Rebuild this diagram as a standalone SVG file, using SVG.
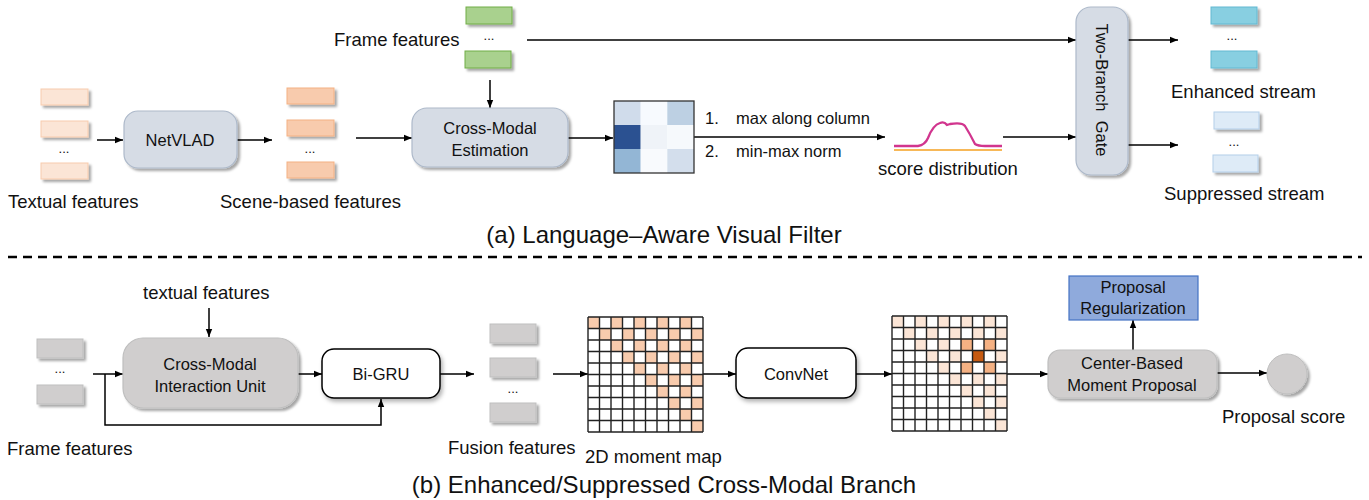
<svg xmlns="http://www.w3.org/2000/svg" width="1369" height="500" viewBox="0 0 1369 500">
<defs>
<style>
text{font-family:"Liberation Sans",Arial,sans-serif;fill:#111}
.lbl{font-size:18.5px}
.bx{font-size:16.5px;text-anchor:middle}
.cap{font-size:24px;text-anchor:middle}
.dots{font-size:13px;text-anchor:middle}
.c{stroke:#000;stroke-width:1.5;fill:none;marker-end:url(#ah)}
.cn{stroke:#000;stroke-width:1.5;fill:none}
.tf{fill:#FBE5D6;stroke:#F8CBAD;stroke-width:1}
.sf{fill:#F8CBAD;stroke:#F4B183;stroke-width:1}
.gf{fill:#A9D18E;stroke:#70AD47;stroke-width:1}
.ef{fill:#88CFE1;stroke:#62B9D2;stroke-width:1}
.uf{fill:#DEEBF7;stroke:#B4CFEA;stroke-width:1}
.yf{fill:#D0CECE;stroke:#BFBFBF;stroke-width:1}
.pb{fill:#D6DCE5;stroke:#ADB9CA;stroke-width:1.2}
.gb{fill:#D0CECE;stroke:#BFBFBF;stroke-width:1.2}
.wb{fill:#fff;stroke:#000;stroke-width:1.5}
.g1{fill:#F8CBAD}
.l2{fill:#FBE5D6}
.m2{fill:#F4B183}
.d2{fill:#C55A11}
.gl{stroke:#222;stroke-width:1.4;fill:none}
</style>
<marker id="ah" viewBox="0 0 10 10" refX="10" refY="5" markerWidth="8" markerHeight="8" markerUnits="userSpaceOnUse" orient="auto"><path d="M0,1 L10,5 L0,9 z" fill="#000"/></marker>
<filter id="sh" x="-20%" y="-30%" width="150%" height="180%"><feDropShadow dx="2.5" dy="2.5" stdDeviation="1.2" flood-color="#000" flood-opacity="0.35"/></filter>
<filter id="sw" x="-20%" y="-30%" width="150%" height="180%"><feDropShadow dx="2" dy="3" stdDeviation="2" flood-color="#000" flood-opacity="0.3"/></filter>
</defs>
<rect width="1369" height="500" fill="#fff"/>

<g id="connectors">
<path class="c" d="M97,140 H123"/>
<path class="c" d="M237,140 H272"/>
<path class="c" d="M356,138 H412"/>
<path class="c" d="M490,80 V108"/>
<path class="c" d="M568,138 H613"/>
<path class="c" d="M694,137 H885"/>
<path class="c" d="M527,40 H1076"/>
<path class="c" d="M1003,137 H1076"/>
<path class="c" d="M1128,40 H1178"/>
<path class="c" d="M1128,145 H1178"/>
<path class="c" d="M209,308 V337"/>
<path class="c" d="M93,374 H123"/>
<path class="c" d="M105,374 V425 H381 V399"/>
<path class="c" d="M298,374 H322"/>
<path class="c" d="M440,374 H474"/>
<path class="c" d="M553,374 H588"/>
<path class="c" d="M703,374 H736"/>
<path class="c" d="M856,374 H892"/>
<path class="c" d="M1007,374 H1048"/>
<path class="c" d="M1133,350 V320"/>
<path class="c" d="M1217,373 H1267"/>
</g>

<g id="textual-features">
<rect class="tf" x="41" y="89" width="47" height="16" filter="url(#sh)"/>
<rect class="tf" x="41" y="121" width="47" height="16" filter="url(#sh)"/>
<text class="dots" x="64" y="153">...</text>
<rect class="tf" x="41" y="163" width="47" height="16" filter="url(#sh)"/>
<text class="lbl" x="8" y="208">Textual features</text>
</g>

<g id="netvlad">
<rect class="pb" x="124" y="111" width="113" height="57" rx="14" filter="url(#sh)"/>
<text class="bx" x="180" y="146">NetVLAD</text>
</g>

<g id="scene-features">
<rect class="sf" x="287" y="88" width="47" height="16" filter="url(#sh)"/>
<rect class="sf" x="287" y="120" width="47" height="16" filter="url(#sh)"/>
<text class="dots" x="310" y="153">...</text>
<rect class="sf" x="287" y="162" width="47" height="16" filter="url(#sh)"/>
<text class="lbl" x="220" y="208">Scene-based features</text>
</g>

<g id="frame-features-top">
<text class="lbl" x="334" y="46">Frame features</text>
<rect class="gf" x="466" y="7" width="46" height="17" filter="url(#sh)"/>
<text class="dots" x="489" y="40">...</text>
<rect class="gf" x="465" y="51" width="46" height="17" filter="url(#sh)"/>
</g>

<g id="cross-modal-estimation">
<rect class="pb" x="412" y="108" width="156" height="59" rx="15" filter="url(#sh)"/>
<text class="bx" x="490" y="134">Cross-Modal</text>
<text class="bx" x="490" y="156">Estimation</text>
</g>

<g id="heatmap">
<rect x="614" y="101" width="26.7" height="24" fill="#D0DCEB"/>
<rect x="640.7" y="101" width="26.7" height="24" fill="#F7FAFE"/>
<rect x="667.3" y="101" width="26.7" height="24" fill="#BDD0E3"/>
<rect x="614" y="125" width="26.7" height="24" fill="#2B5191"/>
<rect x="640.7" y="125" width="26.7" height="24" fill="#EFF3F8"/>
<rect x="667.3" y="125" width="26.7" height="24" fill="#F6F9FC"/>
<rect x="614" y="149" width="26.7" height="24" fill="#93B6D5"/>
<rect x="640.7" y="149" width="26.7" height="24" fill="#F8FAFD"/>
<rect x="667.3" y="149" width="26.7" height="24" fill="#D3DEEC"/>
<rect x="614" y="101" width="80" height="72" fill="none" stroke="#333" stroke-width="1.3"/>
</g>

<g id="ops">
<text class="bx" x="705" y="124" style="text-anchor:start">1.</text>
<text class="bx" x="736" y="124" style="text-anchor:start">max along column</text>
<text class="bx" x="705" y="157" style="text-anchor:start">2.</text>
<text class="bx" x="736" y="157" style="text-anchor:start">min-max norm</text>
</g>

<g id="score-distribution">
<path d="M894,150 H1002" stroke="#F4A020" stroke-width="1.6" fill="none"/>
<path d="M894,146 L918,146 Q925,145 928,138 Q933,125 940,123 Q944,121 947,125 L950,124 Q962,122 965,126 Q970,134 975,144 Q978,146 985,146 L1002,146" stroke="#D1358E" stroke-width="2.3" fill="none"/>
<text class="lbl" x="878" y="175">score distribution</text>
</g>

<g id="two-branch-gate">
<rect class="pb" x="1076" y="7" width="52" height="168" rx="15" filter="url(#sh)"/>
<text class="bx" transform="translate(1102,90) rotate(90)" x="0" y="6" style="white-space:pre">Two-Branch  Gate</text>
</g>

<g id="enhanced-stream">
<rect class="ef" x="1211" y="7" width="46" height="17" filter="url(#sh)"/>
<text class="dots" x="1232" y="40">...</text>
<rect class="ef" x="1211" y="51" width="46" height="17" filter="url(#sh)"/>
<text class="lbl" x="1171" y="98">Enhanced stream</text>
</g>

<g id="suppressed-stream">
<rect class="uf" x="1214" y="112" width="45" height="17" filter="url(#sh)"/>
<text class="dots" x="1234" y="146">...</text>
<rect class="uf" x="1213" y="155" width="45" height="17" filter="url(#sh)"/>
<text class="lbl" x="1164" y="200">Suppressed stream</text>
</g>

<g id="caption-a">
<text class="cap" x="664" y="243">(a) Language–Aware Visual Filter</text>
</g>

<g id="separator">
<path d="M8,257 H1362" stroke="#000" stroke-width="2.5" stroke-dasharray="9 6"/>
</g>

<g id="textual-features-b">
<text class="lbl" x="143" y="299">textual features</text>
</g>

<g id="frame-features-b">
<rect class="yf" x="37" y="339" width="46" height="19" filter="url(#sh)"/>
<text class="dots" x="60" y="373">...</text>
<rect class="yf" x="37" y="385" width="46" height="19" filter="url(#sh)"/>
<text class="lbl" x="7" y="455">Frame features</text>
</g>

<g id="cross-modal-interaction">
<rect class="gb" x="123" y="338" width="175" height="70" rx="20" filter="url(#sh)"/>
<text class="bx" x="210" y="370">Cross-Modal</text>
<text class="bx" x="210" y="392">Interaction Unit</text>
</g>

<g id="bi-gru">
<rect class="wb" x="322" y="349" width="118" height="49" rx="12" filter="url(#sw)"/>
<text class="bx" x="381" y="380">Bi-GRU</text>
</g>

<g id="fusion-features">
<rect class="yf" x="490" y="324" width="46" height="19" filter="url(#sh)"/>
<rect class="yf" x="490" y="358" width="46" height="19" filter="url(#sh)"/>
<text class="dots" x="513" y="393">...</text>
<rect class="yf" x="490" y="403" width="46" height="19" filter="url(#sh)"/>
<text class="lbl" x="448" y="454">Fusion features</text>
</g>

<g id="moment-map">
<g class="g1">
<rect x="588" y="317" width="11.5" height="11.5"/><rect x="611" y="317" width="11.5" height="11.5"/><rect x="634" y="317" width="11.5" height="11.5"/><rect x="657" y="317" width="11.5" height="11.5"/><rect x="680" y="317" width="11.5" height="11.5"/>
<rect x="599.5" y="328.5" width="11.5" height="11.5"/><rect x="622.5" y="328.5" width="11.5" height="11.5"/><rect x="645.5" y="328.5" width="11.5" height="11.5"/><rect x="668.5" y="328.5" width="11.5" height="11.5"/><rect x="691.5" y="328.5" width="11.5" height="11.5"/>
<rect x="611" y="340" width="11.5" height="11.5"/><rect x="634" y="340" width="11.5" height="11.5"/><rect x="657" y="340" width="11.5" height="11.5"/><rect x="680" y="340" width="11.5" height="11.5"/>
<rect x="622.5" y="351.5" width="11.5" height="11.5"/><rect x="645.5" y="351.5" width="11.5" height="11.5"/><rect x="668.5" y="351.5" width="11.5" height="11.5"/><rect x="691.5" y="351.5" width="11.5" height="11.5"/>
<rect x="634" y="363" width="11.5" height="11.5"/><rect x="657" y="363" width="11.5" height="11.5"/><rect x="680" y="363" width="11.5" height="11.5"/>
<rect x="645.5" y="374.5" width="11.5" height="11.5"/><rect x="668.5" y="374.5" width="11.5" height="11.5"/><rect x="691.5" y="374.5" width="11.5" height="11.5"/>
<rect x="657" y="386" width="11.5" height="11.5"/><rect x="680" y="386" width="11.5" height="11.5"/>
<rect x="668.5" y="397.5" width="11.5" height="11.5"/><rect x="691.5" y="397.5" width="11.5" height="11.5"/>
<rect x="680" y="409" width="11.5" height="11.5"/>
<rect x="691.5" y="420.5" width="11.5" height="11.5"/>
</g>
<path class="gl" d="M588,317 H703 M588,328.5 H703 M588,340 H703 M588,351.5 H703 M588,363 H703 M588,374.5 H703 M588,386 H703 M588,397.5 H703 M588,409 H703 M588,420.5 H703 M588,432 H703 M588,317 V432 M599.5,317 V432 M611,317 V432 M622.5,317 V432 M634,317 V432 M645.5,317 V432 M657,317 V432 M668.5,317 V432 M680,317 V432 M691.5,317 V432 M703,317 V432"/>
<text class="lbl" x="585" y="463">2D moment map</text>
</g>

<g id="convnet">
<rect class="wb" x="736" y="348" width="120" height="50" rx="12" filter="url(#sw)"/>
<text class="bx" x="796" y="380">ConvNet</text>
</g>

<g id="refined-map">
<g class="l2">
<rect x="892" y="316" width="11.5" height="11.5"/><rect x="915" y="316" width="11.5" height="11.5"/><rect x="938" y="316" width="11.5" height="11.5"/><rect x="961" y="316" width="11.5" height="11.5"/><rect x="984" y="316" width="11.5" height="11.5"/>
<rect x="903.5" y="327.5" width="11.5" height="11.5"/><rect x="926.5" y="327.5" width="11.5" height="11.5"/><rect x="949.5" y="327.5" width="11.5" height="11.5"/><rect x="972.5" y="327.5" width="11.5" height="11.5"/><rect x="995.5" y="327.5" width="11.5" height="11.5"/>
<rect x="915" y="339" width="11.5" height="11.5"/><rect x="938" y="339" width="11.5" height="11.5"/>
<rect x="926.5" y="350.5" width="11.5" height="11.5"/><rect x="949.5" y="350.5" width="11.5" height="11.5"/><rect x="995.5" y="350.5" width="11.5" height="11.5"/>
<rect x="938" y="362" width="11.5" height="11.5"/>
<rect x="949.5" y="373.5" width="11.5" height="11.5"/><rect x="972.5" y="373.5" width="11.5" height="11.5"/><rect x="995.5" y="373.5" width="11.5" height="11.5"/>
<rect x="961" y="385" width="11.5" height="11.5"/><rect x="984" y="385" width="11.5" height="11.5"/>
<rect x="972.5" y="396.5" width="11.5" height="11.5"/><rect x="995.5" y="396.5" width="11.5" height="11.5"/>
<rect x="984" y="408" width="11.5" height="11.5"/>
<rect x="995.5" y="419.5" width="11.5" height="11.5"/>
</g>
<g class="m2">
<rect x="961" y="339" width="11.5" height="11.5"/><rect x="984" y="339" width="11.5" height="11.5"/>
<rect x="961" y="362" width="11.5" height="11.5"/><rect x="984" y="362" width="11.5" height="11.5"/>
</g>
<rect class="d2" x="972.5" y="350.5" width="11.5" height="11.5"/>
<path class="gl" d="M892,316 H1007 M892,327.5 H1007 M892,339 H1007 M892,350.5 H1007 M892,362 H1007 M892,373.5 H1007 M892,385 H1007 M892,396.5 H1007 M892,408 H1007 M892,419.5 H1007 M892,431 H1007 M892,316 V431 M903.5,316 V431 M915,316 V431 M926.5,316 V431 M938,316 V431 M949.5,316 V431 M961,316 V431 M972.5,316 V431 M984,316 V431 M995.5,316 V431 M1007,316 V431"/>
</g>

<g id="proposal-regularization">
<rect x="1069" y="276" width="129" height="44" fill="#8FAADC" stroke="#4472C4" stroke-width="1.2"/>
<text class="bx" x="1133" y="293">Proposal</text>
<text class="bx" x="1133" y="314">Regularization</text>
</g>

<g id="center-based-proposal">
<rect class="gb" x="1048" y="350" width="169" height="48" rx="12" filter="url(#sh)"/>
<text class="bx" x="1132" y="369">Center-Based</text>
<text class="bx" x="1132" y="391">Moment Proposal</text>
</g>

<g id="proposal-score">
<circle cx="1287" cy="374" r="20" fill="#D0CECE" stroke="#BFBFBF" stroke-width="1" filter="url(#sh)"/>
<text class="lbl" x="1222" y="423">Proposal score</text>
</g>

<g id="caption-b">
<text class="cap" x="664" y="493">(b) Enhanced/Suppressed Cross-Modal Branch</text>
</g>
</svg>
